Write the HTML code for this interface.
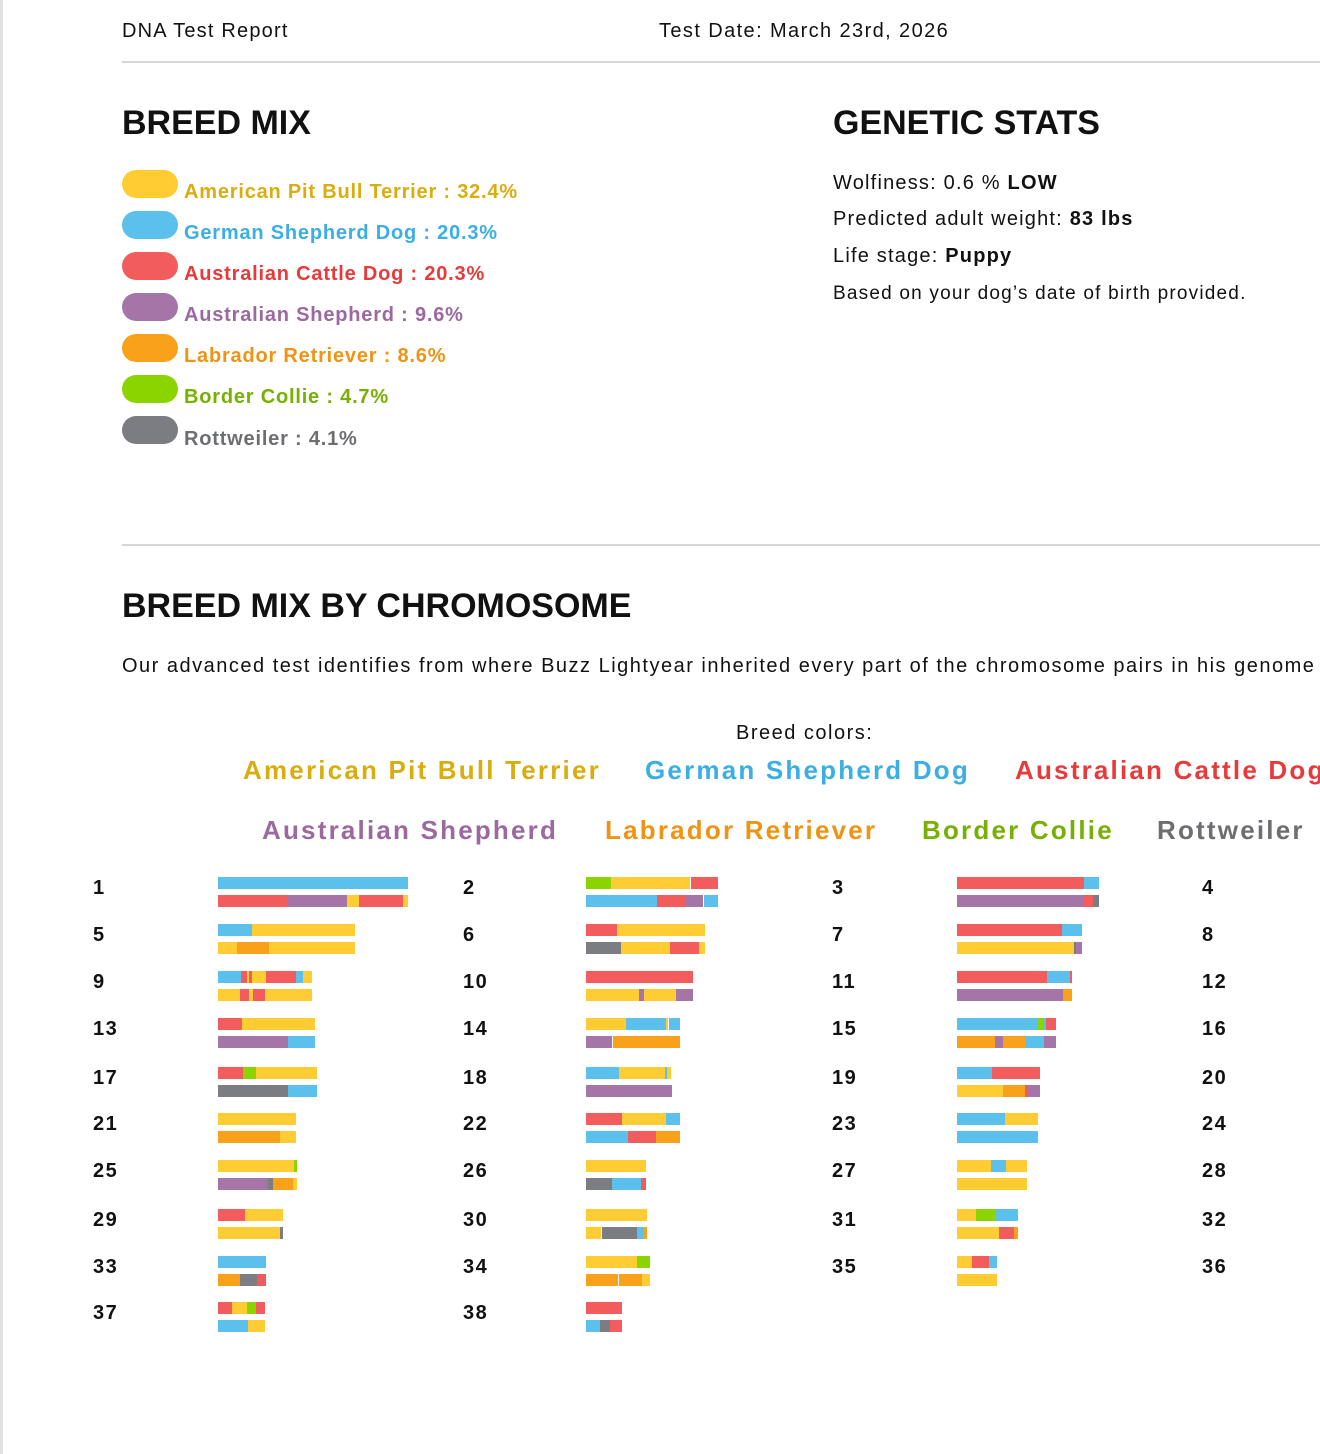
<!DOCTYPE html>
<html><head><meta charset="utf-8">
<style>
html,body{margin:0;padding:0;}
body{width:1320px;height:1454px;position:relative;overflow:hidden;background:#fff;font-family:"Liberation Sans",sans-serif;color:#111;}
.a{position:absolute;white-space:nowrap;}
.strip{position:absolute;left:0;top:0;width:3px;height:1454px;background:#e2e2e2;}
.hr{position:absolute;left:122px;width:1198px;height:2px;background:#d6d6d6;}
h2{margin:0;font-size:34px;font-weight:bold;letter-spacing:0px;}
.sw{position:absolute;left:122px;width:56px;height:28px;border-radius:14px;}
.lg{position:absolute;left:184px;font-size:20px;font-weight:bold;line-height:24px;letter-spacing:0.8px;white-space:nowrap;}
.st{position:absolute;left:833px;font-size:20px;line-height:24px;letter-spacing:1.2px;white-space:nowrap;}
.bc{position:absolute;font-size:26px;font-weight:bold;letter-spacing:2.2px;line-height:30px;white-space:nowrap;}
.num{position:absolute;font-size:20px;font-weight:bold;letter-spacing:1.5px;line-height:24px;}
.seg{position:absolute;height:12px;}
</style></head><body>
<div class="strip"></div>
<div class="a" style="left:122px;top:19px;font-size:20px;line-height:24px;letter-spacing:1.2px;">DNA Test Report</div>
<div class="a" style="left:659px;top:19px;font-size:20px;line-height:24px;letter-spacing:1.4px;">Test Date: March 23rd, 2026</div>
<div class="hr" style="top:61px;"></div>

<div class="a" style="left:122px;top:104px;"><h2>BREED MIX</h2></div>
<div class="sw" style="top:170px;background:#FFCC33"></div><div class="lg" style="top:180px;color:#D9AD0E">American Pit Bull Terrier : 32.4%</div>
<div class="sw" style="top:211px;background:#5BC0EB"></div><div class="lg" style="top:221px;color:#3BAEE3">German Shepherd Dog : 20.3%</div>
<div class="sw" style="top:252px;background:#F25C5C"></div><div class="lg" style="top:262px;color:#E83A3A">Australian Cattle Dog : 20.3%</div>
<div class="sw" style="top:293px;background:#A675A8"></div><div class="lg" style="top:303px;color:#9B68A0">Australian Shepherd : 9.6%</div>
<div class="sw" style="top:334px;background:#F9A11B"></div><div class="lg" style="top:344px;color:#EE9412">Labrador Retriever : 8.6%</div>
<div class="sw" style="top:375px;background:#8CD400"></div><div class="lg" style="top:385px;color:#76B000">Border Collie : 4.7%</div>
<div class="sw" style="top:416px;background:#7B7D82"></div><div class="lg" style="top:427px;color:#6C6E72">Rottweiler : 4.1%</div>

<div class="a" style="left:833px;top:104px;"><h2>GENETIC STATS</h2></div>
<div class="st" style="top:171px;">Wolfiness: 0.6 % <b>LOW</b></div>
<div class="st" style="top:207px;">Predicted adult weight: <b>83 lbs</b></div>
<div class="st" style="top:244px;">Life stage: <b>Puppy</b></div>
<div class="st" style="top:282px;font-size:19px;">Based on your dog’s date of birth provided.</div>

<div class="hr" style="top:544px;"></div>
<div class="a" style="left:122px;top:587px;"><h2>BREED MIX BY CHROMOSOME</h2></div>
<div class="a" style="left:122px;top:654px;font-size:20px;line-height:24px;letter-spacing:1.5px;">Our advanced test identifies from where Buzz Lightyear inherited every part of the chromosome pairs in his genome</div>
<div class="a" style="left:736px;top:721px;font-size:20px;line-height:24px;letter-spacing:1.5px;">Breed colors:</div>

<div class="bc" style="left:243px;top:755px;color:#D9AD0E">American Pit Bull Terrier</div>
<div class="bc" style="left:645px;top:755px;color:#3BAEE3">German Shepherd Dog</div>
<div class="bc" style="left:1015px;top:755px;color:#E83A3A">Australian Cattle Dog</div>
<div class="bc" style="left:262px;top:815px;color:#9B68A0">Australian Shepherd</div>
<div class="bc" style="left:605px;top:815px;color:#EE9412">Labrador Retriever</div>
<div class="bc" style="left:922px;top:815px;color:#76B000">Border Collie</div>
<div class="bc" style="left:1157px;top:815px;color:#6C6E72">Rottweiler</div>

<div id="chr"></div>
<script>
var C={y:'#FFCC33',b:'#5BC0EB',r:'#F25C5C',p:'#A675A8',o:'#F9A11B',g:'#8CD400',k:'#7B7D82'};
var rows=[888,935,982,1029,1078,1124,1171,1220,1267,1313];
var labX=[93,463,832,1202];
var D=[
[1,0,0,200,[['b',52,605]],[['r',52,252],['p',252,427],['y',427,462],['r',462,590],['y',590,605]]],
[2,1,0,200,[['g',1122,1197],['y',1197,1427],['r',1427,1507]],[['b',1122,1330],['r',1330,1412],['p',1412,1465],['b',1465,1507]]],
[3,2,0,940,[['r',50,433],['b',433,478]],[['p',50,432],['r',432,458],['k',458,478]]],
[4,3,0,0,[],[]],
[5,0,1,200,[['b',52,152],['y',152,452]],[['y',52,108],['o',108,200],['y',200,452]]],
[6,1,1,200,[['r',1122,1212],['y',1212,1470]],[['k',1122,1225],['y',1225,1368],['r',1368,1452],['y',1452,1470]]],
[7,2,1,940,[['r',50,365],['b',365,427]],[['y',50,402],['k',402,407],['p',407,427]]],
[8,3,1,0,[],[]],
[9,0,2,200,[['b',52,120],['r',120,135],['y',135,142],['r',142,152],['y',152,192],['r',192,278],['b',278,298],['y',298,325]],[['y',52,115],['r',115,142],['y',142,155],['r',155,190],['y',190,325]]],
[10,1,2,200,[['r',1122,1433]],[['y',1122,1278],['p',1278,1292],['y',1292,1385],['p',1385,1433]]],
[11,2,2,940,[['r',50,320],['b',320,390],['r',390,396]],[['p',50,368],['o',368,396]]],
[12,3,2,0,[],[]],
[13,0,3,200,[['r',52,122],['y',122,335]],[['p',52,256],['b',256,335]]],
[14,1,3,200,[['y',1122,1240],['b',1240,1355],['y',1355,1363],['b',1363,1395]],[['p',1122,1200],['o',1200,1395]]],
[15,2,3,940,[['b',50,292],['g',292,312],['b',312,318],['r',318,348]],[['o',50,165],['p',165,188],['o',188,257],['b',257,312],['p',312,348]]],
[16,3,3,0,[],[]],
[17,0,4,200,[['r',52,125],['g',125,162],['y',162,340]],[['k',52,255],['b',255,340]]],
[18,1,4,200,[['b',1122,1220],['y',1220,1353],['b',1353,1360],['y',1360,1372]],[['p',1122,1372]]],
[19,2,4,940,[['b',50,157],['r',157,300]],[['y',50,188],['o',188,255],['r',255,265],['p',265,300]]],
[20,3,4,0,[],[]],
[21,0,5,200,[['y',52,280]],[['o',52,233],['y',233,280]]],
[22,1,5,200,[['r',1122,1227],['y',1227,1355],['b',1355,1398]],[['b',1122,1245],['r',1245,1328],['o',1328,1398]]],
[23,2,5,940,[['b',50,196],['y',196,293]],[['b',50,293]]],
[24,3,5,0,[],[]],
[25,0,6,200,[['y',52,274],['g',274,283]],[['p',52,197],['k',197,213],['o',213,271],['y',271,283]]],
[26,1,6,200,[['y',1122,1297]],[['k',1122,1198],['b',1198,1282],['r',1282,1297]]],
[27,2,6,940,[['y',50,152],['b',152,198],['y',198,262]],[['y',50,262]]],
[28,3,6,0,[],[]],
[29,0,7,200,[['r',52,130],['y',130,240]],[['y',52,233],['k',233,240]]],
[30,1,7,200,[['y',1122,1302]],[['y',1122,1168],['k',1168,1270],['b',1270,1288],['o',1288,1302]]],
[31,2,7,940,[['y',50,108],['g',108,165],['b',165,235]],[['y',50,177],['r',177,222],['o',222,235]]],
[32,3,7,0,[],[]],
[33,0,8,200,[['b',52,192]],[['o',52,115],['k',115,165],['r',165,192]]],
[34,1,8,200,[['y',1122,1270],['g',1270,1310]],[['o',1122,1217],['o',1219,1287],['y',1287,1310]]],
[35,2,8,940,[['y',50,97],['r',97,147],['b',147,172]],[['y',50,172]]],
[36,3,8,0,[],[]],
[37,0,9,200,[['r',52,92],['y',92,137],['g',137,162],['r',162,190]],[['b',52,140],['y',140,190]]],
[38,1,9,200,[['r',1122,1228]],[['b',1122,1163],['k',1163,1192],['r',1192,1228]]]
];
function mx(off,z){ if(off===200) return 218+(z-52)*0.3436; return off+z/3; }
var h='';
D.forEach(function(d){
  var cy=rows[d[2]];
  h+='<div class="num" style="left:'+labX[d[1]]+'px;top:'+(cy-12)+'px">'+d[0]+'</div>';
  [[d[4],cy-11],[d[5],cy+7]].forEach(function(p){
    p[0].forEach(function(s){
      var x1=mx(d[3],s[1]),x2=mx(d[3],s[2]);
      h+='<div class="seg" style="left:'+x1.toFixed(1)+'px;width:'+(x2-x1).toFixed(1)+'px;top:'+p[1]+'px;background:'+C[s[0]]+'"></div>';
    });
  });
});
document.getElementById('chr').innerHTML=h;
</script>
</body></html>
